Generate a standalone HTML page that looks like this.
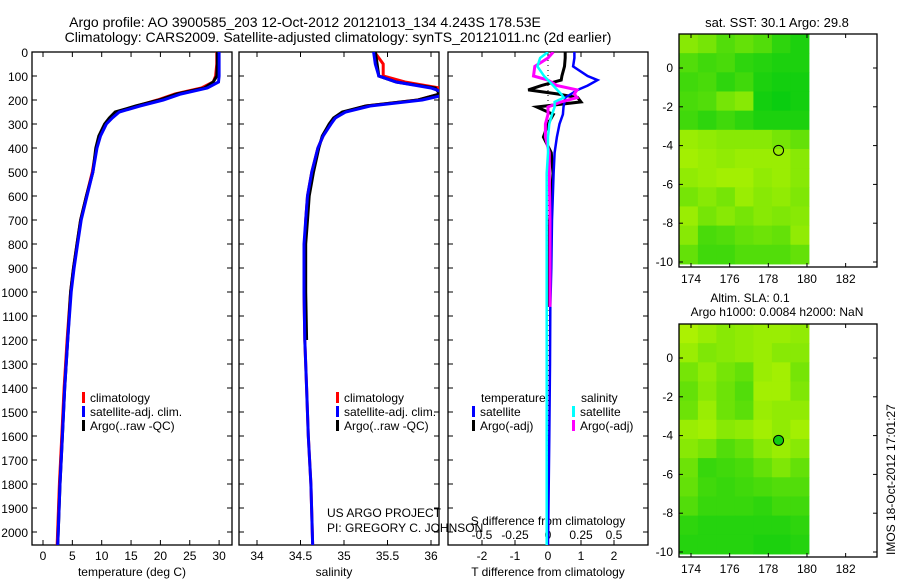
<!DOCTYPE html>
<html><head><meta charset="utf-8"><style>
html,body{margin:0;padding:0;background:#fff;width:900px;height:580px;overflow:hidden}
svg{display:block;font-family:"Liberation Sans",sans-serif}
</style></head><body>
<svg id="s" width="900" height="580" viewBox="0 0 900 580">
<text x="305" y="27" font-size="14" text-anchor="middle">Argo profile: AO 3900585_203 12-Oct-2012 20121013_134 4.243S 178.53E</text>
<text x="338" y="42" font-size="14" text-anchor="middle">Climatology: CARS2009. Satellite-adjusted climatology: synTS_20121011.nc (2d earlier)</text>
<text x="777" y="27" font-size="13" text-anchor="middle">sat. SST: 30.1 Argo: 29.8</text>
<text x="750" y="302" font-size="12" text-anchor="middle">Altim. SLA: 0.1</text>
<text x="777" y="316" font-size="12" text-anchor="middle">Argo h1000: 0.0084 h2000: NaN</text>
<text transform="translate(895,555) rotate(-90)" font-size="12">IMOS 18-Oct-2012 17:01:27</text>
<text x="327" y="517" font-size="12">US ARGO PROJECT</text>
<text x="327" y="532" font-size="12">PI: GREGORY C. JOHNSON</text>
</svg>
<script>
const depth=[0,50,100,125,150,175,200,225,250,275,300,350,400,500,600,700,800,900,1000,1200,1400,1600,1800,2060];
const tClim=[29.6,29.6,29.4,29.0,27.0,22.5,19.5,16.0,12.5,11.5,10.6,9.7,9.1,8.4,7.4,6.4,5.8,5.2,4.7,4.1,3.6,3.2,2.8,2.4];
const tSat =[30.0,30.0,30.0,29.9,28.0,23.5,20.5,16.5,13.0,11.8,10.8,9.8,9.2,8.5,7.5,6.5,5.9,5.3,4.8,4.2,3.7,3.3,2.9,2.5];
const tArgo=[29.7,29.7,29.6,29.0,27.5,22.8,19.8,15.8,12.3,11.3,10.5,9.5,9.0,8.5,7.4,6.4,5.8,5.2,4.7,4.2,3.7,3.3,2.9,2.5];
const sClim=[35.35,35.45,35.45,35.7,36.1,36.1,35.85,35.25,35.0,34.9,34.84,34.76,34.7,34.63,34.58,34.56,34.55,34.54,34.54,34.55,34.57,34.59,34.62,34.64];
const sSat =[35.34,35.36,35.4,35.6,36.0,36.2,35.9,35.3,35.02,34.9,34.85,34.76,34.7,34.63,34.58,34.56,34.54,34.54,34.54,34.55,34.57,34.59,34.62,34.64];
const sArgo=[35.36,35.38,35.4,35.6,36.05,36.1,35.85,35.25,34.98,34.88,34.83,34.75,34.71,34.65,34.6,34.58,34.56,34.56,34.56,34.57];
const dDepth=[0,25,60,100,117,140,158,175,190,208,229,260,300,354,420,505,700,900,1062,1300,1600,2060];
const dtSat =[0.8,0.8,0.76,1.2,1.5,1.2,0.9,0.7,0.52,0.5,0.47,0.45,0.35,0.27,0.2,0.17,0.12,0.1,0.07,0.06,0.04,0.0];
const dtArgo=[0.52,0.52,0.5,0.42,0.4,-0.2,-0.6,0.3,0.9,1.0,-0.34,0.16,0.0,-0.14,0.1,0.15,0.05,0.03,0.02];
const dsArgo=[0.04,0.0,-0.1,-0.11,0.0,0.07,0.22,0.2,0.22,0.1,0.0,0.0,-0.02,-0.02,0.01,0.01,0.015,0.015,0.015];
const dsSat =[0.0,-0.06,-0.08,-0.03,0.0,0.04,0.07,0.1,0.12,0.05,0.05,0.03,0.01,0.0,0.0,-0.01,-0.01,-0.01,-0.01,-0.01,-0.01,-0.01];
const depthTicks=[0,100,200,300,400,500,600,700,800,900,1000,1100,1200,1300,1400,1500,1600,1700,1800,1900,2000];
const tTicks=[0,5,10,15,20,25,30];
const sTicks=[34,34.5,35,35.5,36];
const dtTicks=[-2,-1,0,1,2];
const dsTicks=[-0.5,-0.25,0,0.25,0.5];
const lonTicks=[174,176,178,180,182];
const latTicks=[0,-2,-4,-6,-8,-10];
const sstGrid=[
[.7,.6,.4,.5,.4,.2,.1],
[.4,.3,.35,.2,.15,.1,.1],[.3,.35,.2,.3,.1,.05,.05],[.35,.4,.6,.7,.05,0,.05],[.3,.2,.3,.2,.1,.1,.1],
[.8,.75,.7,.7,.7,.6,.5],[.85,.8,.75,.8,.8,.8,.7],[.75,.8,.85,.85,.75,.8,.7],[.6,.7,.6,.8,.7,.75,.65],
[.8,.6,.7,.6,.7,.65,.7],[.7,.35,.4,.5,.55,.5,.75],[.5,.3,.3,.4,.4,.4,.5]];
const slaGrid=[
[.9,.8,.7,.75,.8,.8,.75],[.8,.65,.7,.75,.8,.7,.7],[.6,.75,.6,.5,.8,.85,.6],[.5,.7,.55,.4,.85,.85,.65],
[.55,.8,.55,.45,.8,.75,.75],[.8,.85,.7,.75,.85,.75,.85],[.7,.6,.4,.5,.7,.8,.7],[.55,.25,.3,.35,.5,.65,.5],
[.5,.3,.25,.3,.35,.4,.4],[.4,.25,.25,.25,.2,.3,.3],[.2,.15,.15,.15,.15,.15,.2],[.15,.15,.15,.15,.1,.1,.15]];
const floatLon=178.53, floatLat=-4.243;

const S=document.getElementById('s'),NS='http://www.w3.org/2000/svg';
function mk(t,a,p){const e=document.createElementNS(NS,t);for(const k in a)e.setAttribute(k,a[k]);(p||S).appendChild(e);return e;}
const yD=d=>52+d*0.24;
const xT=v=>43+v*5.87, xS=v=>257+(v-34)*87, xDT=v=>548+v*33, xDS=v=>548+v*132;
function frame(x0,x1,y0,y1,name){
 const r=mk('rect',{x:x0,y:y0,width:x1-x0,height:y1-y0,fill:'none',stroke:'#000','stroke-width':1.3});
 
 
}
function line(xs,ds,fx,col,w,name){
 let pts=[];for(let i=0;i<xs.length&&i<ds.length;i++)pts.push(fx(xs[i]).toFixed(1)+','+yD(ds[i]).toFixed(1));
 const p=mk('polyline',{points:pts.join(' '),fill:'none',stroke:col,'stroke-width':w,'clip-path':'url(#c'+name.split('-')[0]+')'});
 
 
}
const defs=mk('defs',{});
[['p1',32,232],['p2',239,439],['p3',448,648]].forEach(c=>{const cp=mk('clipPath',{id:'c'+c[0]},defs);mk('rect',{x:c[1],y:52,width:c[2]-c[1],height:493},cp);});
frame(32,232,52,545,'temperature-panel');frame(239,439,52,545,'salinity-panel');frame(448,648,52,545,'difference-panel');
depthTicks.forEach(d=>{
 const t=mk('text',{x:28,y:yD(d)+5,'font-size':12,'text-anchor':'end'});t.textContent=d;
 
 
 [[32,232],[239,439],[448,648]].forEach(p=>{mk('line',{x1:p[0],x2:p[0]+5,y1:yD(d),y2:yD(d),stroke:'#000'});mk('line',{x1:p[1],x2:p[1]-5,y1:yD(d),y2:yD(d),stroke:'#000'});});
});
function xticks(ticks,fx,y,name,lab){
 ticks.forEach(v=>{const x=fx(v);
  if(lab){mk('line',{x1:x,x2:x,y1:545,y2:540,stroke:'#000'});mk('line',{x1:x,x2:x,y1:52,y2:57,stroke:'#000'});}
  const t=mk('text',{x:x,y:y,'font-size':12,'text-anchor':'middle'});t.textContent=v;
  
  });
}
xticks(tTicks,xT,560,'temperature-tick',1);xticks(sTicks,xS,560,'salinity-tick',1);
xticks(dtTicks,xDT,560,'t-diff-tick',1);xticks(dsTicks,xDS,539,'s-diff-tick',0);
[['temperature (deg C)',132,576,'x-axis-title-temperature'],['salinity',334,576,'x-axis-title-salinity'],['T difference from climatology',548,576,'x-axis-title-t-diff'],['S difference from climatology',548,525,'x-axis-title-s-diff']].forEach(a=>{
 const t=mk('text',{x:a[1],y:a[2],'font-size':12,'text-anchor':'middle'});t.textContent=a[0];
 
 });
line(tClim,depth,xT,'#f00',3,'p1-clim');line(tArgo,depth,xT,'#000',3,'p1-argo');line(tSat,depth,xT,'#00f',3,'p1-sat');
line(sClim,depth,xS,'#f00',3,'p2-clim');line(sArgo,depth,xS,'#000',3,'p2-argo');line(sSat,depth,xS,'#00f',3,'p2-sat');
mk('line',{x1:548,x2:548,y1:60,y2:545,stroke:'#000','stroke-dasharray':'1,4'});
line(dtArgo,dDepth,xDT,'#000',3,'p3-t-argo');line(dtSat,dDepth,xDT,'#00f',2.5,'p3-t-sat');
line(dsArgo,dDepth,xDS,'#f0f',3,'p3-s-argo');line(dsSat,dDepth,xDS,'#0ff',2.5,'p3-s-sat');
function legend(x,y,items){items.forEach((it,i)=>{
 mk('rect',{x:x,y:y+i*14-10,width:3,height:11,fill:it[1]});
 const t=mk('text',{x:x+8,y:y+i*14,'font-size':12});t.textContent=it[0];
 
 });}
const L1=[['climatology','#f00'],['satellite-adj. clim.','#00f'],['Argo(..raw -QC)','#000']];
legend(82,402,L1);legend(336,402,L1);
legend(472,416,[['satellite','#00f'],['Argo(-adj)','#000']]);legend(572,416,[['satellite','#0ff'],['Argo(-adj)','#f0f']]);
[['temperature',481],['salinity',581]].forEach(a=>{const t=mk('text',{x:a[1],y:402,'font-size':12});t.textContent=a[0];
 
 });
function mapPanel(y0,y1,lat0y,grid,name,fillCircle){
 const xL=v=>691+(v-174)*19.33, yL=v=>lat0y-v*19.4;
 const topLat=(lat0y-y0)/19.4, rows=grid.length, lonA=173.4, lonB=180.1, latB=-10.1, dLat=(topLat-latB)/rows, dLon=(lonB-lonA)/7;
 const g=mk('g',{});
 grid.forEach((row,r)=>row.forEach((v,c)=>{
  const col='rgb('+Math.round(10+v*180)+','+Math.round(205+v*40)+','+Math.round(16-v*16)+')';
  const x=xL(lonA+c*dLon),y=yL(topLat-r*dLat);
  const cell=mk('rect',{x:x,y:y,width:dLon*19.33+0.5,height:dLat*19.4+0.5,fill:col},g);
  
  }));
 frame(679,877,y0,y1,name+'-frame');
 lonTicks.forEach(v=>{const x=xL(v);mk('line',{x1:x,x2:x,y1:y1,y2:y1-4,stroke:'#000'});mk('line',{x1:x,x2:x,y1:y0,y2:y0+4,stroke:'#000'});
  const t=mk('text',{x:x,y:y1+16,'font-size':12,'text-anchor':'middle'});t.textContent=v;
  
  });
 latTicks.forEach(v=>{const y=yL(v);mk('line',{x1:679,x2:683,y1:y,y2:y,stroke:'#000'});mk('line',{x1:877,x2:873,y1:y,y2:y,stroke:'#000'});
  const t=mk('text',{x:673,y:y+4,'font-size':12,'text-anchor':'end'});t.textContent=v;
  
  });
 const c=mk('circle',{cx:xL(floatLon),cy:yL(floatLat),r:5,fill:fillCircle,stroke:'#000','stroke-width':1});
 
 
}
mapPanel(34,267,68,sstGrid,'sst-map','none');
mapPanel(324,557,358,slaGrid,'sla-map','#1c1');
</script>
</body></html>
